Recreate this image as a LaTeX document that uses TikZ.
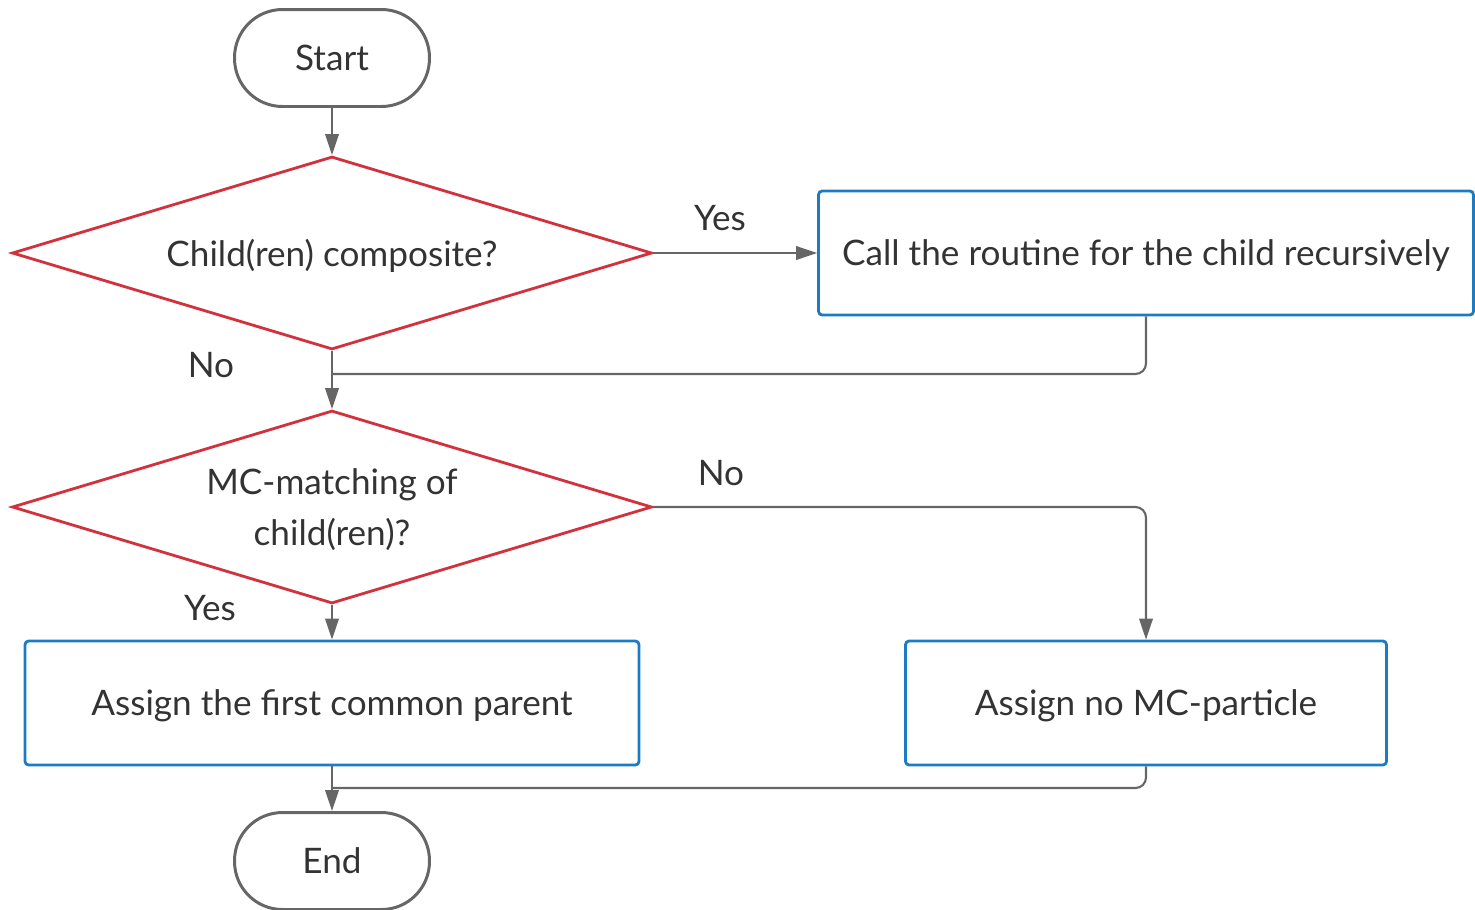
\documentclass[tikz,border=0pt]{standalone}
\usepackage{fontspec}
\setmainfont{Lato}
\usetikzlibrary{shapes.geometric, arrows.meta}

\definecolor{linegray}{HTML}{666666}
\definecolor{textgray}{HTML}{333333}
\definecolor{decred}{HTML}{D2323E}
\definecolor{procblue}{HTML}{1B7CC4}

\tikzset{
    terminal/.style={draw=linegray, line width=1.7pt, rounded corners=0.96cm,
        minimum width=3.9cm, minimum height=1.94cm, text=textgray, text depth=0pt},
    decision/.style={diamond, draw=decred, line width=1.6pt, inner sep=0pt,
        aspect=3.33, minimum width=12.8cm, minimum height=3.86cm,
        text=textgray, align=center, text depth=0pt},
    process/.style={draw=procblue, line width=1.6pt, rounded corners=2pt,
        minimum height=2.48cm, text=textgray, text depth=0pt},
    flow/.style={draw=linegray, line width=1.2pt, rounded corners=6pt,
        -{Triangle[length=0.42cm, width=0.27cm]}},
    mergeline/.style={draw=linegray, line width=1.2pt, rounded corners=6pt},
    lbl/.style={text=textgray}
}

\begin{document}
\begin{tikzpicture}[x=0.02cm, y=-0.02cm, font=\fontsize{20}{29}\selectfont]
    \useasboundingbox (0,0) rectangle (1475,910);

    % Start and end
    \node[terminal] (start) at (332, 58) {Start};
    \node[terminal] (stop) at (332, 861) {End};

    % Decisions
    \node[decision] (composite) at (332, 253) {Child(ren) composite?};
    \node[decision] (matching) at (332, 507) {MC-matching of\\child(ren)?};

    % Processes
    \node[process, minimum width=13.1cm] (recurse) at (1146, 253) {Call the routine for the child recursively};
    \node[process, minimum width=12.28cm] (common) at (332, 703) {Assign the first common parent};
    \node[process, minimum width=9.62cm] (nomc) at (1146, 703) {Assign no MC-particle};

    % Helper points
    \coordinate (merge1) at (332, 374);
    \coordinate (merge2) at (332, 788);

    % Connectors
    \draw[flow] (start) -- (composite);
    \draw[flow] (composite.east) -- (recurse.west);
    \draw[flow] (composite.south) -- (matching.north);
    \draw[mergeline] (recurse.south) |- (merge1);
    \draw[flow] (matching.east) -| (nomc.north);
    \draw[flow] (matching.south) -- (common.north);
    \draw[flow] (common.south) -- (stop.north);
    \draw[mergeline] (nomc.south) |- (merge2);

    % Branch labels
    \node[lbl] (yes1) at (720, 218) {Yes};
    \node[lbl] (no1) at (211, 365) {No};
    \node[lbl] (no2) at (721, 473) {No};
    \node[lbl] (yes2) at (210, 608) {Yes};
\end{tikzpicture}
\end{document}
